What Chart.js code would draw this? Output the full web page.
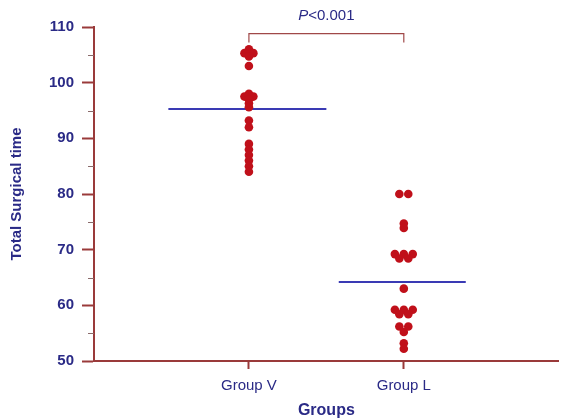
<!DOCTYPE html>
<html>
<head>
<meta charset="utf-8">
<script src="https://cdn.jsdelivr.net/npm/chart.js@4/dist/chart.umd.min.js"></script>
<style>
  body { margin: 0; background: #fff; }
  #wrap { width: 563px; height: 420px; }
</style>
</head>
<body>
<div id="wrap"><canvas id="c"></canvas></div>
<script>
// groups on the x axis (positions 1 and 2)
var groups = ['Group V', 'Group L'];
// total surgical time (equal values sit side by side)
var groupV = [106, 105.3, 105.3, 104.7, 103, 98, 97.5, 97.5, 97, 96.3, 95.6,
              93.2, 92, 89, 88, 87, 86, 85, 84];
var groupL = [80, 80, 74.7, 73.9, 69.2, 69.2, 69.2, 68.4, 68.4, 63,
              59.2, 59.2, 59.2, 58.4, 58.4, 56.2, 56.2, 55.2, 53.2, 52.2];
var yTicks = [50, 60, 70, 80, 90, 100, 110];
var pLabel = 'P<0.001';
var bracketTop = 108.8, bracketBottom = 107.2;

var navy = '#2a2a86';
var axisRed = '#9a3a3a';
var dotRed = '#c0101a';
var font = '"Liberation Sans", Arial, sans-serif';

function mean(a) {
    return a.reduce(function (s, v) { return s + v; }, 0) / a.length;
}

// dot plot layout: equal values are laid out in a centred row
function swarm(values, center) {
    var gap = 9 / 156;
    var counts = {}, seen = {};
    values.forEach(function (v) { counts[v] = (counts[v] || 0) + 1; });
    return values.map(function (v) {
        var i = seen[v] || 0;
        seen[v] = i + 1;
        return { x: center + (i - (counts[v] - 1) / 2) * gap, y: v };
    });
}

function meanLine(values, center, left, right) {
    var m = mean(values);
    return [{ x: center - left, y: m }, { x: center + right, y: m }];
}

var extras = {
    id: 'extras',
    afterDraw: function (chart) {
        var ctx = chart.ctx, x = chart.scales.x, y = chart.scales.y;
        ctx.save();
        // minor ticks on y axis
        ctx.strokeStyle = '#8a6a6a';
        ctx.lineWidth = 1;
        for (var v = 55; v < 110; v += 10) {
            var py = Math.round(y.getPixelForValue(v)) + 0.5;
            ctx.beginPath();
            ctx.moveTo(x.left - 6, py);
            ctx.lineTo(x.left, py);
            ctx.stroke();
        }
        // p value label above the bracket
        ctx.fillStyle = navy;
        ctx.textBaseline = 'bottom';
        ctx.font = '15px ' + font;
        var rest = pLabel.slice(1);
        var restW = ctx.measureText(rest).width;
        ctx.font = 'italic 15px ' + font;
        var pW = ctx.measureText('P').width;
        var sx = x.getPixelForValue(1.5) - (pW + restW) / 2;
        var ty = y.getPixelForValue(bracketTop) - 10;
        ctx.textAlign = 'left';
        ctx.fillText('P', sx, ty);
        ctx.font = '15px ' + font;
        ctx.fillText(rest, sx + pW, ty);
        ctx.restore();
    }
};

new Chart(document.getElementById('c'), {
    type: 'scatter',
    data: {
        datasets: [
            {
                data: swarm(groupV, 1),
                backgroundColor: dotRed, borderColor: dotRed,
                pointRadius: 4.3, borderWidth: 0
            },
            {
                data: swarm(groupL, 2),
                backgroundColor: dotRed, borderColor: dotRed,
                pointRadius: 4.3, borderWidth: 0
            },
            {
                data: meanLine(groupV, 1, 0.52, 0.5),
                showLine: true, borderColor: '#3a3ab4', borderWidth: 2, pointRadius: 0
            },
            {
                data: meanLine(groupL, 2, 0.42, 0.4),
                showLine: true, borderColor: '#3a3ab4', borderWidth: 2, pointRadius: 0
            },
            {
                data: [{ x: 1, y: bracketBottom }, { x: 1, y: bracketTop },
                       { x: 2, y: bracketTop }, { x: 2, y: bracketBottom }],
                showLine: true, borderColor: '#a04848', borderWidth: 1.2, pointRadius: 0
            }
        ]
    },
    options: {
        responsive: true,
        maintainAspectRatio: false,
        animation: false,
        layout: { padding: { left: 8, right: 0, top: 27, bottom: 0 } },
        plugins: { legend: { display: false }, tooltip: { enabled: false } },
        scales: {
            x: {
                type: 'linear', min: 0, max: 3,
                afterBuildTicks: function (s) {
                    s.ticks = groups.map(function (g, i) { return { value: i + 1 }; });
                },
                ticks: {
                    callback: function (v) { return groups[v - 1]; },
                    color: navy,
                    font: { family: font, size: 15 },
                    padding: 8
                },
                grid: { drawOnChartArea: false, tickLength: 8, tickColor: axisRed, tickWidth: 2 },
                border: { color: axisRed, width: 2 },
                title: {
                    display: true, text: 'Groups', color: navy,
                    font: { family: font, size: 16, weight: 'bold', lineHeight: 1 },
                    padding: { top: 0, bottom: 1 }
                }
            },
            y: {
                min: 50, max: 110,
                afterBuildTicks: function (s) {
                    s.ticks = yTicks.map(function (v) { return { value: v }; });
                },
                ticks: {
                    color: navy,
                    font: { family: font, size: 15, weight: 'bold' },
                    padding: 8
                },
                grid: { drawOnChartArea: false, tickLength: 12, tickColor: axisRed, tickWidth: 2 },
                border: { color: axisRed, width: 2 },
                title: {
                    display: true, text: 'Total Surgical time', color: navy,
                    font: { family: font, size: 15, weight: 'bold' },
                    padding: { top: 0, bottom: 15 }
                }
            }
        }
    },
    plugins: [extras]
});
</script>
</body>
</html>
